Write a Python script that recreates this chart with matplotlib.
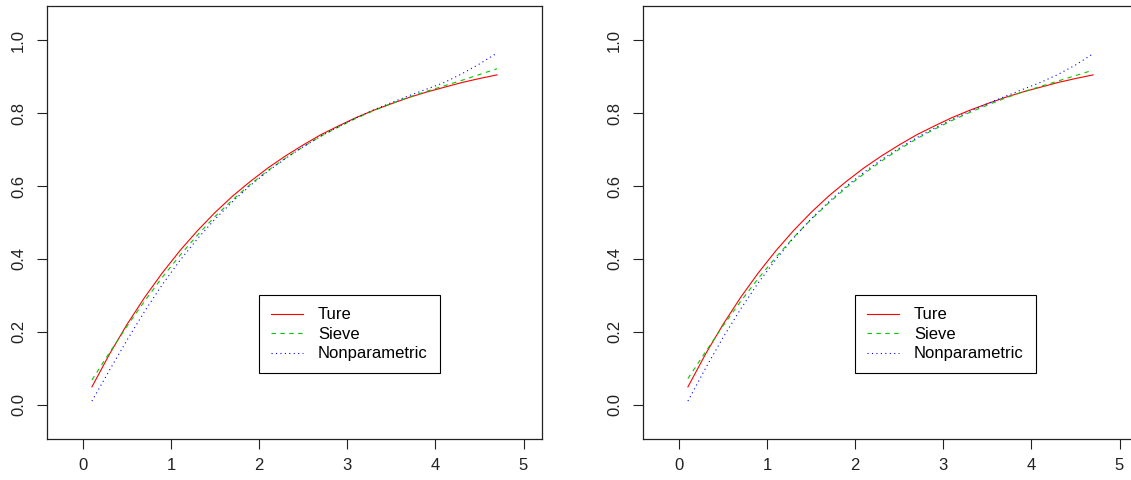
import matplotlib
matplotlib.use("Agg")
import matplotlib.pyplot as plt

plt.rcParams['font.family'] = ['Liberation Sans', 'DejaVu Sans']

# values
x = [0.1, 0.3, 0.5, 0.7, 0.9, 1.1, 1.3, 1.5, 1.7, 1.9, 2.1, 2.3,
     2.5, 2.7, 2.9, 3.1, 3.3, 3.5, 3.7, 3.9, 4.1, 4.3, 4.5, 4.7]

true_left = [0.049, 0.139, 0.221, 0.295, 0.362, 0.423, 0.478, 0.528,
             0.573, 0.613, 0.650, 0.683, 0.713, 0.741, 0.765, 0.788,
             0.808, 0.826, 0.843, 0.858, 0.871, 0.884, 0.895, 0.905]
sieve_left = [0.068, 0.143, 0.216, 0.285, 0.350, 0.410, 0.466, 0.517,
              0.563, 0.605, 0.643, 0.677, 0.708, 0.737, 0.762, 0.786,
              0.807, 0.826, 0.844, 0.860, 0.875, 0.890, 0.906, 0.922]
nonpar_left = [0.010, 0.095, 0.178, 0.257, 0.330, 0.396, 0.456, 0.510,
               0.558, 0.602, 0.641, 0.676, 0.708, 0.737, 0.763, 0.787,
               0.809, 0.829, 0.848, 0.866, 0.884, 0.908, 0.935, 0.965]

true_right = true_left
sieve_right = [0.072, 0.145, 0.217, 0.284, 0.347, 0.405, 0.459, 0.509,
               0.554, 0.596, 0.634, 0.669, 0.701, 0.730, 0.756, 0.780,
               0.802, 0.822, 0.841, 0.858, 0.873, 0.888, 0.903, 0.918]
nonpar_right = [0.010, 0.100, 0.185, 0.263, 0.335, 0.399, 0.458, 0.510,
                0.557, 0.600, 0.638, 0.673, 0.704, 0.733, 0.759, 0.783,
                0.805, 0.826, 0.846, 0.865, 0.884, 0.906, 0.932, 0.963]

labels = ["Ture", "Sieve", "Nonparametric"]
xticks = [0, 1, 2, 3, 4, 5]
yticks = [0.0, 0.2, 0.4, 0.6, 0.8, 1.0]

W, H = 1131, 480
fig = plt.figure(figsize=(W / 100, H / 100), dpi=100)


def panel(left_px, tv, sv, nv):
    ax = fig.add_axes([left_px / W, (H - 439) / H, 495 / W, 433 / H])
    ax.plot(x, tv, color='#FF0000', lw=0.8, label=labels[0])
    ax.plot(x, sv, color='#00CD00', lw=0.8, ls=(0, (4, 4)), label=labels[1])
    ax.plot(x, nv, color='#0000FF', lw=0.8, ls=(0, (1, 3)), label=labels[2])
    ax.set_xlim(-0.41, 5.21)
    ax.set_ylim(-0.094, 1.094)
    ax.set_xticks(xticks)
    ax.set_xticklabels([str(t) for t in xticks])
    ax.set_yticks(yticks)
    ax.set_yticklabels([f"{t:.1f}" for t in yticks], rotation=90, va='center')
    ax.tick_params(length=7, width=0.8, labelsize=12, colors='#222222')
    ax.tick_params(axis='x', pad=7)
    ax.tick_params(axis='y', pad=8)
    for s in ax.spines.values():
        s.set_linewidth(0.9)
        s.set_color('#222222')
    leg = ax.legend(loc='upper left', bbox_to_anchor=(2.0, 0.30),
                    bbox_transform=ax.transData, fancybox=False,
                    framealpha=1, edgecolor='black', fontsize=12,
                    handlelength=1.9, handletextpad=0.9, labelspacing=0.27,
                    borderpad=0.72, borderaxespad=0)
    leg.get_frame().set_linewidth(0.8)
    return ax


panel(47, true_left, sieve_left, nonpar_left)
panel(643, true_right, sieve_right, nonpar_right)

fig.savefig("out.png", dpi=100)
